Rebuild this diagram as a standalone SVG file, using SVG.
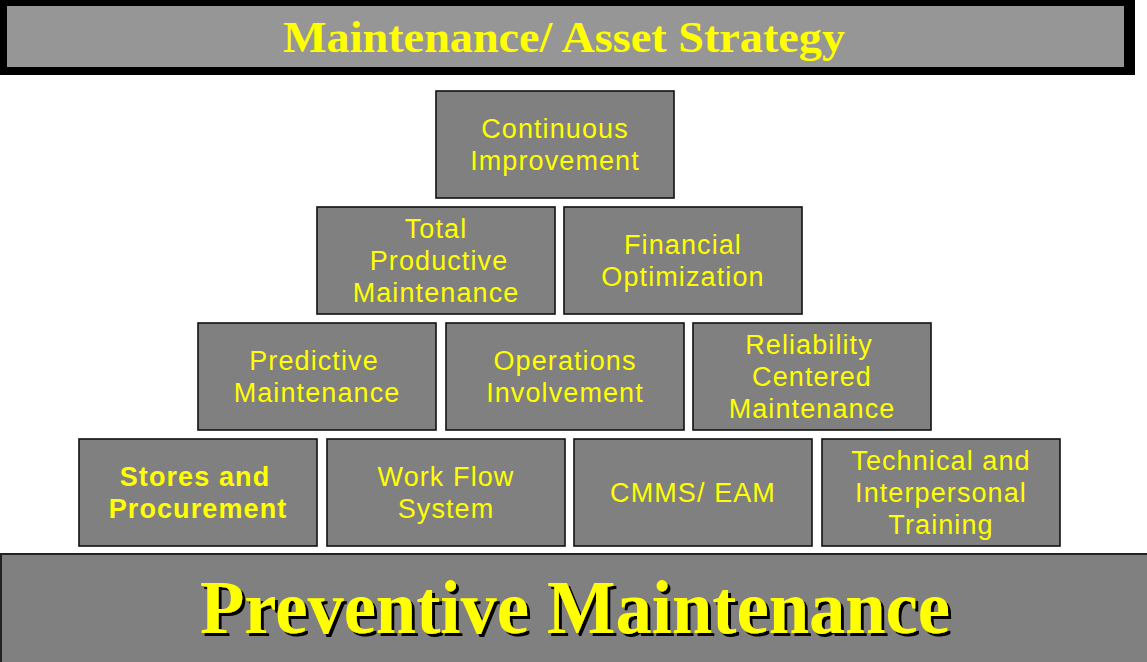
<svg xmlns="http://www.w3.org/2000/svg" width="1147" height="662" viewBox="0 0 1147 662">
<style>
.box{fill:#808080;stroke:#111;stroke-width:1.6}
.t{font-family:"Liberation Sans",Arial,sans-serif;font-size:27px;fill:#ffff00;text-anchor:middle;letter-spacing:1.1px}
.b{font-weight:bold}
.ban{font-family:"Liberation Serif","Times New Roman",serif;font-weight:bold;fill:#ffff00;text-anchor:middle}
</style>
<defs>
<filter id="shadow" x="-5%" y="-20%" width="110%" height="140%">
<feDropShadow dx="3" dy="3" stdDeviation="0" flood-color="#000" flood-opacity="1"/>
</filter>
</defs>
<rect width="1147" height="662" fill="#ffffff"/>
<g id="top-banner">
<rect x="0" y="0" width="1135" height="75" fill="#000"/>
<rect x="7" y="6" width="1117" height="61" fill="#969696"/>
<text class="ban" x="564" y="52" font-size="45" textLength="562" lengthAdjust="spacingAndGlyphs">Maintenance/ Asset Strategy</text>
</g>
<g id="n-continuous">
<rect class="box" x="436" y="91" width="238" height="107"/>
<text class="t" x="555" y="138">Continuous</text>
<text class="t" x="555" y="170">Improvement</text>
</g>
<g id="n-tpm">
<rect class="box" x="317" y="207" width="238" height="107"/>
<text class="t" x="436" y="238">Total</text>
<text class="t" x="439" y="270">Productive</text>
<text class="t" x="436" y="302">Maintenance</text>
</g>
<g id="n-financial">
<rect class="box" x="564" y="207" width="238" height="107"/>
<text class="t" x="683" y="254">Financial</text>
<text class="t" x="683" y="286">Optimization</text>
</g>
<g id="n-predictive">
<rect class="box" x="198" y="323" width="238" height="107"/>
<text class="t" x="314" y="370">Predictive</text>
<text class="t" x="317" y="402">Maintenance</text>
</g>
<g id="n-operations">
<rect class="box" x="446" y="323" width="238" height="107"/>
<text class="t" x="565" y="370">Operations</text>
<text class="t" x="565" y="402">Involvement</text>
</g>
<g id="n-rcm">
<rect class="box" x="693" y="323" width="238" height="107"/>
<text class="t" x="809" y="354">Reliability</text>
<text class="t" x="812" y="386">Centered</text>
<text class="t" x="812" y="418">Maintenance</text>
</g>
<g id="n-stores">
<rect class="box" x="79" y="439" width="238" height="107"/>
<text class="t b" x="195" y="486">Stores and</text>
<text class="t b" x="198" y="518">Procurement</text>
</g>
<g id="n-workflow">
<rect class="box" x="327" y="439" width="238" height="107"/>
<text class="t" x="446" y="486">Work Flow</text>
<text class="t" x="446" y="518">System</text>
</g>
<g id="n-cmms">
<rect class="box" x="574" y="439" width="238" height="107"/>
<text class="t" x="693" y="502">CMMS/ EAM</text>
</g>
<g id="n-training">
<rect class="box" x="822" y="439" width="238" height="107"/>
<text class="t" x="941" y="470">Technical and</text>
<text class="t" x="941" y="502">Interpersonal</text>
<text class="t" x="941" y="534">Training</text>
</g>
<g id="bottom-banner">
<rect x="1" y="554" width="1150" height="112" fill="#808080" stroke="#222" stroke-width="2"/>
<text class="ban" x="575" y="633" font-size="76" textLength="750" lengthAdjust="spacingAndGlyphs" filter="url(#shadow)">Preventive Maintenance</text>
</g>
<g id="connectors"/>
</svg>
